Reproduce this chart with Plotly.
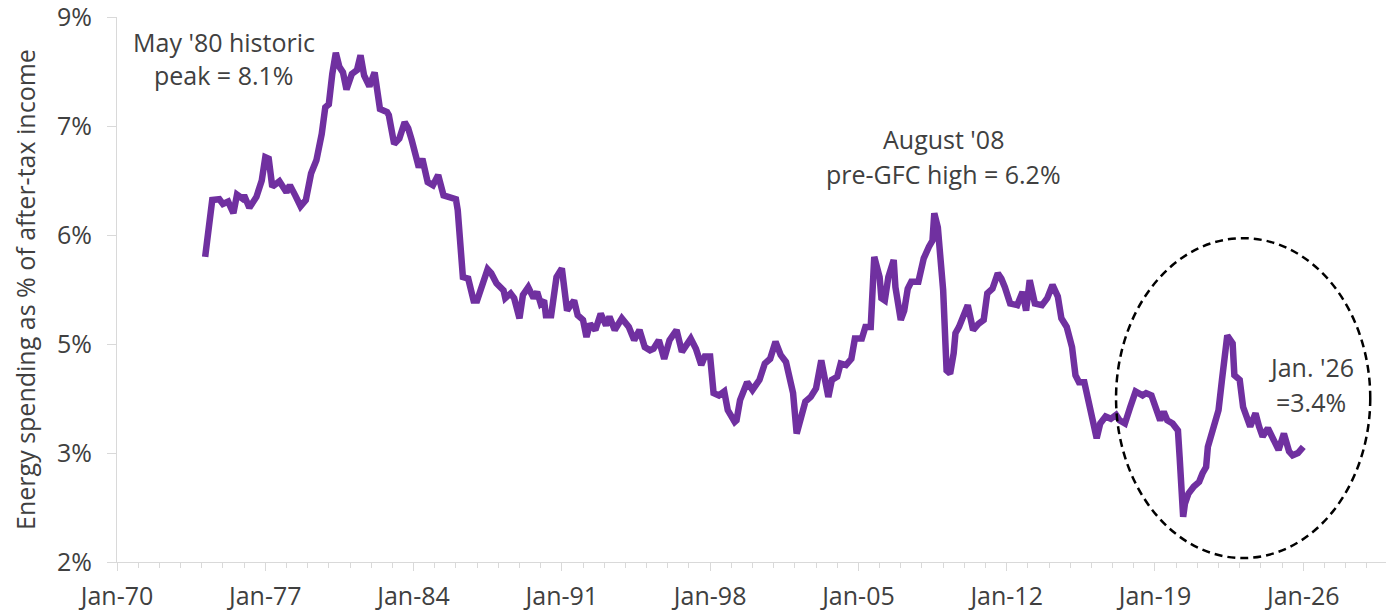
import plotly.graph_objects as go

dates = [
    "1974-03", "1974-07", "1974-11", "1975-01", "1975-04", "1975-07", "1975-09", "1975-12",
    "1976-01", "1976-04", "1976-08", "1976-11", "1977-01", "1977-03", "1977-05", "1977-09",
    "1978-01", "1978-03", "1978-06", "1978-09", "1978-12", "1979-03", "1979-06", "1979-09",
    "1979-11", "1980-01", "1980-03", "1980-05", "1980-07", "1980-09", "1980-11", "1981-02",
    "1981-05", "1981-07", "1981-09", "1981-12", "1982-03", "1982-06", "1982-10", "1982-11",
    "1983-02", "1983-05", "1983-08", "1983-10", "1983-12", "1984-04", "1984-06", "1984-09",
    "1984-12", "1985-03", "1985-06", "1985-09", "1986-01", "1986-02", "1986-05", "1986-08",
    "1986-11", "1987-01", "1987-04", "1987-07", "1987-09", "1987-12", "1988-04", "1988-05",
    "1988-08", "1988-10", "1989-01", "1989-03", "1989-06", "1989-09", "1989-11", "1990-01",
    "1990-03", "1990-04", "1990-07", "1990-10", "1991-01", "1991-02", "1991-04", "1991-06",
    "1991-08", "1991-10", "1992-01", "1992-03", "1992-05", "1992-08", "1992-11", "1993-02",
    "1993-04", "1993-07", "1993-11", "1994-03", "1994-06", "1994-09", "1994-12", "1995-03",
    "1995-05", "1995-08", "1995-11", "1996-02", "1996-06", "1996-09", "1997-02", "1997-05",
    "1997-08", "1997-10", "1998-01", "1998-03", "1998-06", "1998-09", "1998-11", "1999-03",
    "1999-04", "1999-06", "1999-10", "2000-01", "2000-05", "2000-08", "2000-11", "2001-02",
    "2001-05", "2001-08", "2001-12", "2002-02", "2002-05", "2002-07", "2002-10", "2003-01",
    "2003-04", "2003-06", "2003-08", "2003-10", "2004-01", "2004-03", "2004-06", "2004-09",
    "2004-11", "2005-03", "2005-05", "2005-08", "2005-10", "2006-01", "2006-02", "2006-04",
    "2006-06", "2006-09", "2006-10", "2007-01", "2007-03", "2007-05", "2007-07", "2007-11",
    "2008-02", "2008-05", "2008-07", "2008-08", "2008-10", "2009-01", "2009-03", "2009-05",
    "2009-07", "2009-08", "2009-10", "2010-03", "2010-06", "2010-09", "2010-12", "2011-02",
    "2011-05", "2011-08", "2011-10", "2011-12", "2012-03", "2012-07", "2012-10", "2012-12",
    "2013-02", "2013-05", "2013-09", "2013-12", "2014-03", "2014-06", "2014-08", "2014-11",
    "2015-02", "2015-04", "2015-06", "2015-09", "2015-12", "2016-02", "2016-04", "2016-06",
    "2016-09", "2016-12", "2017-03", "2017-05", "2017-08", "2017-11", "2018-02", "2018-06",
    "2018-08", "2018-11", "2019-02", "2019-04", "2019-06", "2019-08", "2019-11", "2020-02",
    "2020-03", "2020-05", "2020-06", "2020-08", "2020-11", "2021-02", "2021-04", "2021-06",
    "2021-07", "2021-10", "2022-01", "2022-03", "2022-05", "2022-06", "2022-09", "2022-10",
    "2023-01", "2023-03", "2023-07", "2023-10", "2023-12", "2024-02", "2024-05", "2024-08",
    "2024-11", "2025-02", "2025-05", "2025-07", "2025-10", "2026-01",
]

energy_share = [
    5.72, 6.45, 6.46, 6.40, 6.43, 6.28, 6.52, 6.47,
    6.51, 6.35, 6.49, 6.70, 7.00, 6.98, 6.62, 6.69,
    6.55, 6.64, 6.51, 6.37, 6.45, 6.79, 6.96, 7.30,
    7.64, 7.68, 8.07, 8.34, 8.16, 8.09, 7.87, 8.07,
    8.12, 8.31, 8.05, 7.91, 8.09, 7.62, 7.58, 7.54,
    7.17, 7.24, 7.45, 7.37, 7.22, 6.87, 6.98, 6.68,
    6.64, 6.77, 6.51, 6.49, 6.46, 6.32, 5.46, 5.44,
    5.16, 5.16, 5.38, 5.56, 5.51, 5.38, 5.29, 5.19,
    5.25, 5.19, 4.93, 5.23, 5.33, 5.19, 5.27, 5.12,
    5.16, 4.97, 4.97, 5.46, 5.57, 5.38, 5.03, 5.10,
    5.16, 4.97, 4.91, 4.69, 4.86, 4.78, 4.99, 4.84,
    4.95, 4.78, 4.93, 4.82, 4.65, 4.78, 4.56, 4.52,
    4.54, 4.65, 4.41, 4.65, 4.78, 4.50, 4.67, 4.54,
    4.33, 4.44, 4.44, 3.97, 3.94, 3.99, 3.75, 3.60,
    3.62, 3.88, 4.11, 4.01, 4.14, 4.35, 4.41, 4.63,
    4.46, 4.37, 3.97, 3.45, 3.67, 3.86, 3.92, 4.03,
    4.39, 4.18, 3.92, 4.14, 4.18, 4.35, 4.33, 4.41,
    4.67, 4.67, 4.82, 4.82, 5.72, 5.46, 5.19, 5.16,
    5.46, 5.68, 5.33, 4.91, 5.03, 5.31, 5.40, 5.40,
    5.70, 5.85, 5.93, 6.28, 6.10, 5.29, 4.26, 4.22,
    4.48, 4.74, 4.82, 5.10, 4.78, 4.86, 4.91, 5.25,
    5.31, 5.51, 5.44, 5.33, 5.12, 5.10, 5.27, 5.03,
    5.42, 5.12, 5.10, 5.19, 5.36, 5.21, 4.93, 4.82,
    4.56, 4.20, 4.11, 4.11, 3.79, 3.54, 3.39, 3.58,
    3.67, 3.64, 3.69, 3.62, 3.58, 3.79, 3.99, 3.94,
    3.97, 3.94, 3.75, 3.62, 3.73, 3.62, 3.58, 3.49,
    3.15, 2.38, 2.55, 2.68, 2.77, 2.83, 2.94, 3.02,
    3.28, 3.49, 3.75, 4.14, 4.56, 4.71, 4.61, 4.20,
    4.14, 3.79, 3.54, 3.71, 3.54, 3.41, 3.52, 3.39,
    3.24, 3.45, 3.22, 3.17, 3.20, 3.28,
]

y_tick_vals = [1.8, 3.2, 4.6, 6.0, 7.4, 8.8]
y_tick_text = ["2%", "3%", "5%", "6%", "7%", "9%"]

y_title = "Energy spending as % of after-tax income"
note_1980 = ["May '80 historic", "peak = 8.1%"]
note_2008 = ["August '08", "pre-GFC high = 6.2%"]
note_2026 = ["Jan. '26", "=3.4%"]

FONT = "Open Sans"
FS = 25
TXT = "#404040"
AX = "#d9d9d9"

fig = go.Figure()
fig.add_trace(go.Scatter(
    x=dates, y=energy_share, mode="lines",
    line=dict(color="#7030A0", width=6.5, shape="linear"),
    hoverinfo="skip", showlegend=False,
))

# page body has an 8px margin, so the figure is sized to fit inside the window
fig.update_layout(
    width=1386, height=605,
    margin=dict(l=109, r=6, t=9, b=51),
    paper_bgcolor="white", plot_bgcolor="white",
    font=dict(family=FONT, size=FS, color=TXT),
)

fig.update_xaxes(
    type="date", automargin=False,
    range=["1970-01-01", "2030-01-01"],
    tick0="1970-01-01", dtick="M84", tickformat="%b-%y",
    ticks="outside", ticklen=8, tickcolor=AX, tickwidth=1,
    ticklabelstandoff=4, ticklabeloverflow="allow",
    minor=dict(dtick="M12", ticks="outside", ticklen=5, tickcolor=AX, tickwidth=1, showgrid=False),
    showgrid=False, zeroline=False,
    showline=True, linecolor=AX, linewidth=1,
    tickfont=dict(family=FONT, size=FS, color=TXT),
)

fig.update_yaxes(
    automargin=False,
    range=[1.8, 8.801],
    tickmode="array", tickvals=y_tick_vals, ticktext=y_tick_text,
    ticks="outside", ticklen=9, tickcolor=AX, tickwidth=1,
    ticklabelstandoff=10, ticklabeloverflow="allow",
    showgrid=False, zeroline=False,
    showline=True, linecolor=AX, linewidth=1,
    tickfont=dict(family=FONT, size=FS, color=TXT),
    title=dict(text=y_title, font=dict(family=FONT, size=FS, color=TXT), standoff=18),
)

def add_note(x, ys, lines):
    for yv, t in zip(ys, lines):
        fig.add_annotation(x=x, y=yv, xref="x", yref="y", text=t, showarrow=False,
                           xanchor="center", yanchor="middle",
                           font=dict(family=FONT, size=FS, color=TXT))

add_note("1975-01-15", [8.48, 8.06], note_1980)
add_note("2009-01-01", [7.24, 6.79], note_2008)
add_note("2026-05-20", [4.30, 3.85], note_2026)

fig.add_shape(type="circle", xref="x", yref="y",
              x0="2017-03-01", x1="2029-03-01", y0=1.85, y1=5.96,
              line=dict(color="black", width=2.5, dash="8px,5px"))

fig.write_html("out.html")
